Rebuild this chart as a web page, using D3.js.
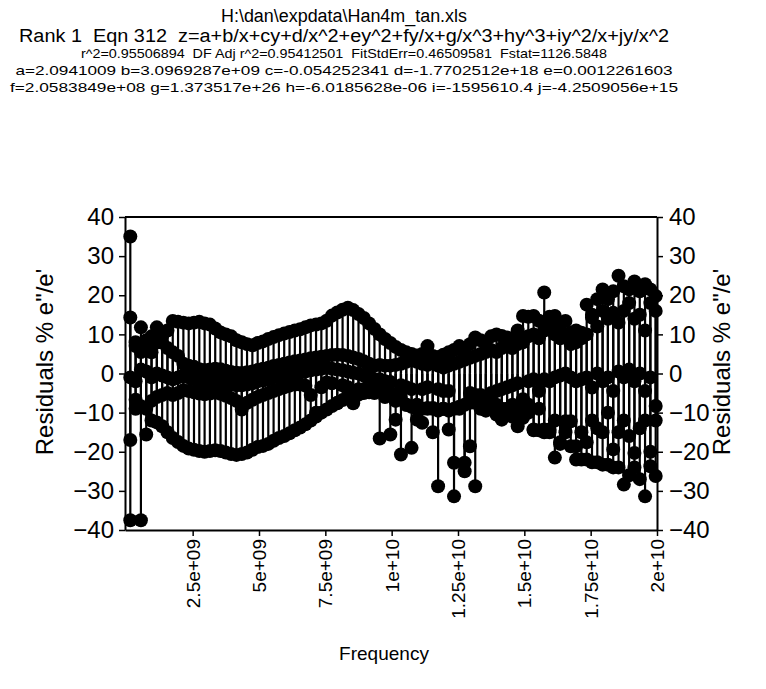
<!DOCTYPE html>
<html>
<head>
<meta charset="utf-8">
<script src="https://cdn.jsdelivr.net/npm/d3@7"></script>
<style>
  html, body { margin: 0; padding: 0; background: #fff; }
  svg { display: block; }
  text { font-family: "Liberation Sans", Arial, sans-serif; fill: #000; white-space: pre; }
</style>
</head>
<body>
<svg id="chart" width="766" height="689"></svg>
<script>
// Header lines
const titleLines = [
  "H:\\dan\\expdata\\Han4m_tan.xls",
  "Rank 1  Eqn 312  z=a+b/x+cy+d/x^2+ey^2+fy/x+g/x^3+hy^3+iy^2/x+jy/x^2",
  "r^2=0.95506894  DF Adj r^2=0.95412501  FitStdErr=0.46509581  Fstat=1126.5848",
  "a=2.0941009 b=3.0969287e+09 c=-0.054252341 d=-1.7702512e+18 e=0.0012261603",
  "f=2.0583849e+08 g=1.373517e+26 h=-6.0185628e-06 i=-1595610.4 j=-4.2509056e+15"
];

// Frequency grid (GHz)
const freqGHz = [
  0.15,0.35,0.55,0.75,0.95,1.15,1.35,1.55,1.75,1.95,
  2.15,2.35,2.55,2.75,2.95,3.15,3.35,3.55,3.75,3.95,
  4.15,4.35,4.55,4.75,4.95,5.15,5.35,5.55,5.75,5.95,
  6.15,6.35,6.55,6.75,6.95,7.15,7.35,7.55,7.75,7.95,
  8.15,8.35,8.55,8.75,8.95,9.15,9.35,9.55,9.75,9.95,
  10.15,10.35,10.55,10.75,10.95,11.15,11.35,11.55,11.75,11.95,
  12.15,12.35,12.55,12.75,12.95,13.15,13.35,13.55,13.75,13.95,
  14.15,14.35,14.55,14.75,14.95,15.15,15.35,15.55,15.75,15.95,
  16.15,16.35,16.55,16.75,16.95,17.15,17.35,17.55,17.75,17.95,
  18.15,18.35,18.55,18.75,18.95,19.15,19.35,19.55,19.75,19.95
];

// Residuals (%) for each y level
const resid1 = [
  35, 8, 11.8, 8.5, 9.5, 11.8, 9.5, 11, 13.4, 13.2,
  13, 12.8, 13, 13.2, 12.8, 12.5, 11.5, 10.5, 10, 9.5,
  8.5, 8, 7.5, 7.2, 7.8, 8.2, 8.8, 9.3, 9.8, 10.2,
  10.6, 11, 11.3, 11.8, 12.3, 12.5, 12.8, 13.5, 14.8, 15.6,
  16.3, 16.8, 16.2, 15.2, 14.2, 12.8, 11.4, 10, 8.8, 7.8,
  6.8, 6, 5.4, 5, 4.6, 5, 7, 4.5, 4.2, 4.8,
  5.4, 6, 7, 6, 7.5, 9.2, 8.5, 8, 9.5, 10,
  9.6, 9.2, 9, 11, 14.7, 14.5, 14.7, 13.5, 20.7, 14.5,
  14.7, 12.5, 13.4, 10.4, 11, 10.4, 17.6, 14.3, 19, 21.5,
  19, 21, 25, 22.3, 21.5, 23.5, 21, 22.8, 21.5, 19.8
];
const resid2 = [
  14.3, 7, 5.5, 6.6, 5.4, 7.9, 7.9, 6.5, 5.4, 4.5,
  2.5, 2, 1.7, 1.1, 0.9, 1, 1.2, 1.1, 0.7, 0.4,
  0.2, 0.1, 0.3, 0.5, 0.9, 1.2, 1.5, 1.9, 2.2, 2.5,
  2.8, 3.1, 3.3, 3.6, 3.9, 4.1, 4.3, 4.5, 4.7, 4.8,
  4.7, 4.5, 4.1, 3.7, 3.1, 2.5, 2, 2.2, 2, 2,
  2.2, 2.5, 3, 3.5, 3, 2.5, 2.2, 3.5, 2, 1.5,
  2, 2.5, 3, 3.5, 4, 4.5, 5, 5.5, 6, 5.5,
  6.5, 7, 6.5, 7.5, 8, 9.5, 10, 9, 11, 12.5,
  10, 9, 9.5, 7.5, 8, 9, 10, 15, 12, 16,
  14, 15.5, 13, 16, 18, 14, 15, 11, 18, 16
];
const resid3 = [
  -1, -2, 1, 0.5, -1, 0, -0.5, -1, -1.5, -1,
  -0.5, -1, -1.5, -2, -2.2, -2, -1.8, -2, -2.5, -2.8,
  -3, -3, -2.8, -2.5, -2, -1.8, -1.5, -1, -0.8, -0.5,
  -0.2, 0, 0.2, 0.5, 0.8, 1, 1.2, 1.5, 1.2, 1,
  0.8, 0.5, 0.2, 0, -0.5, -1, -1.5, -1.5, -2, -2.2,
  -11.8, -3, -3.5, -4, -11.8, -4, -3.5, -8.8, -4, -4.5,
  -4.5, -22.8, -8.8, -22.8, -5, -5.5, -5.5, -6, -5, -4.5,
  -4, -3.5, -3, -2.5, -6.6, -2, -1.5, -4.5, -1.5, -2,
  -1, -0.5, 0, -1, -2, -1.5, -1, -3.6, 0, -2,
  -1, -4.5, 0.5, -1, 1, -2, 0, -4.5, -1, -8.3
];
const resid4 = [
  -17, -6.7, -8.4, -9, -7, -6, -5.5, -5, -5.5, -5,
  -4.3, -4.5, -4.8, -5.1, -5.3, -5.1, -4.9, -5.2, -5.7, -6.3,
  -7, -9.2, -7.5, -6.7, -6, -5.5, -5, -4.5, -4, -3.5,
  -3.1, -2.8, -2.8, -3.1, -5.5, -10, -3.5, -2.3, -2.5, -7.6,
  -3, -3.5, -7.6, -4, -4, -4.5, -5, -16.6, -6, -15.6,
  -7, -20.7, -8, -19, -8, -12.6, -9, -15, -28.8, -9,
  -14.3, -31.4, -9, -25, -18.6, -28.8, -9, -9.5, -7, -10.5,
  -11.8, -9, -8, -13.5, -11.3, -10, -14.3, -9, -14.3, -14.3,
  -12, -17.6, -12.2, -12.2, -18.6, -15, -17.6, -12, -14, -15,
  -10, -19.4, -15, -12, -16, -20.3, -14, -12, -23.7, -12
];
const resid5 = [
  -37.5, -9, -37.5, -15.6, -12, -12.5, -13.5, -15, -16.5, -17.5,
  -18.5, -19.2, -19.5, -19.8, -20, -19.8, -19.6, -19.8, -20.2, -20.6,
  -20.8, -20.6, -20.2, -19.5, -18.8, -18.5, -18, -17.2, -16.5, -16,
  -15.3, -14.5, -13.8, -13, -12, -11, -10, -9.2, -8.3, -7.5,
  -6.8, -6.2, -5.8, -5.4, -5, -4.8, -4.6, -4.5, -4.8, -5,
  -5.5, -6.5, -8, -8.5, -9, -9, -8.8, -9, -9.5, -9,
  -9.5, -9, -8.5, -8, -7.5, -7.5, -7.7, -8, -9, -8,
  -9, -10, -11, -10, -9, -8, -14.5, -14.5, -15, -15,
  -21.5, -18, -15, -18.6, -22, -22, -22, -22.7, -22.7, -23.3,
  -23.3, -24, -24, -28.4, -26, -24, -27, -31.4, -20, -26.2
];

// Axis ticks
const yTicks = [-40, -30, -20, -10, 0, 10, 20, 30, 40];
const xTicks = [2.5e9, 5e9, 7.5e9, 1e10, 1.25e10, 1.5e10, 1.75e10, 2e10];
const xTickLabels = ["2.5e+09", "5e+09", "7.5e+09", "1e+10", "1.25e+10", "1.5e+10", "1.75e+10", "2e+10"];

const svg = d3.select("#chart");

// Plot box
const boxLeft = 125, boxRight = 657, boxTop = 217, boxBottom = 530;

const x = d3.scaleLinear().domain([-0.05e9, 2e10]).range([boxLeft, boxRight]);
const y = d3.scaleLinear().domain([-40, 40]).range([boxBottom, boxTop]);

// Header
const titleSpec = [
  { size: 18, y: 22, len: 246 },
  { size: 18, y: 42, len: 650 },
  { size: 13.5, y: 58, len: 526 },
  { size: 13.5, y: 75, len: 657 },
  { size: 13.5, y: 92, len: 668 }
];
svg.append("g").selectAll("text")
  .data(titleLines)
  .join("text")
  .attr("x", 344)
  .attr("y", (d, i) => titleSpec[i].y)
  .attr("text-anchor", "middle")
  .attr("font-size", (d, i) => titleSpec[i].size)
  .attr("textLength", (d, i) => titleSpec[i].len)
  .attr("lengthAdjust", "spacingAndGlyphs")
  .text(d => d);

// Build series records
const series = [resid1, resid2, resid3, resid4, resid5];
const points = [];
series.forEach((vals, s) => {
  vals.forEach((v, i) => points.push({ f: freqGHz[i] * 1e9, v: v, s: s }));
});

const plot = svg.append("g");

// Stems from zero to each residual
plot.selectAll("line.stem")
  .data(points)
  .join("line")
  .attr("class", "stem")
  .attr("x1", d => x(d.f))
  .attr("x2", d => x(d.f))
  .attr("y1", y(0))
  .attr("y2", d => y(d.v))
  .attr("stroke", "#000")
  .attr("stroke-width", 2.2);

// Markers
plot.selectAll("circle.pt")
  .data(points)
  .join("circle")
  .attr("class", "pt")
  .attr("cx", d => x(d.f))
  .attr("cy", d => y(d.v))
  .attr("r", 7)
  .attr("fill", "#000");

// Top frame line
svg.append("line").attr("x1", boxLeft).attr("x2", boxRight).attr("y1", boxTop).attr("y2", boxTop)
  .attr("stroke", "#000").attr("stroke-width", 2);

// Axes
const axisFont = 24;
const yFmt = d => (d < 0 ? "\u2212" + Math.abs(d) : String(d));
const gl = svg.append("g").attr("transform", `translate(${boxLeft},0)`)
  .call(d3.axisLeft(y).tickValues(yTicks).tickFormat(yFmt).tickSize(6).tickPadding(5).tickSizeOuter(0));
const gr = svg.append("g").attr("transform", `translate(${boxRight},0)`)
  .call(d3.axisRight(y).tickValues(yTicks).tickFormat(yFmt).tickSize(6).tickPadding(6).tickSizeOuter(0));
const gb = svg.append("g").attr("transform", `translate(0,${boxBottom})`)
  .call(d3.axisBottom(x).tickValues(xTicks).tickFormat((d, i) => xTickLabels[i]).tickSize(6).tickSizeOuter(0));

[gl, gr, gb].forEach(g => {
  g.select(".domain").attr("stroke", "#000").attr("stroke-width", 2);
  g.selectAll(".tick line").attr("stroke", "#000").attr("stroke-width", 1.5);
  g.selectAll("text").attr("font-family", "Liberation Sans, Arial, sans-serif").attr("fill", "#000");
});
gl.selectAll("text").attr("font-size", axisFont);
gr.selectAll("text").attr("font-size", axisFont);
gb.selectAll("text")
  .attr("font-size", 19)
  .attr("transform", "rotate(-90)")
  .attr("x", -9)
  .attr("y", 0)
  .attr("dy", "0.35em")
  .attr("text-anchor", "end");

// Axis titles
const yTitleMid = 362;
svg.append("text")
  .attr("transform", `translate(53,${yTitleMid}) rotate(-90)`)
  .attr("text-anchor", "middle")
  .attr("font-size", 24)
  .text("Residuals % e\"/e'");
svg.append("text")
  .attr("transform", `translate(730,${yTitleMid}) rotate(-90)`)
  .attr("text-anchor", "middle")
  .attr("font-size", 24)
  .text("Residuals % e\"/e'");
svg.append("text")
  .attr("x", 384)
  .attr("y", 660)
  .attr("text-anchor", "middle")
  .attr("font-size", 19)
  .text("Frequency");
</script>
</body>
</html>
